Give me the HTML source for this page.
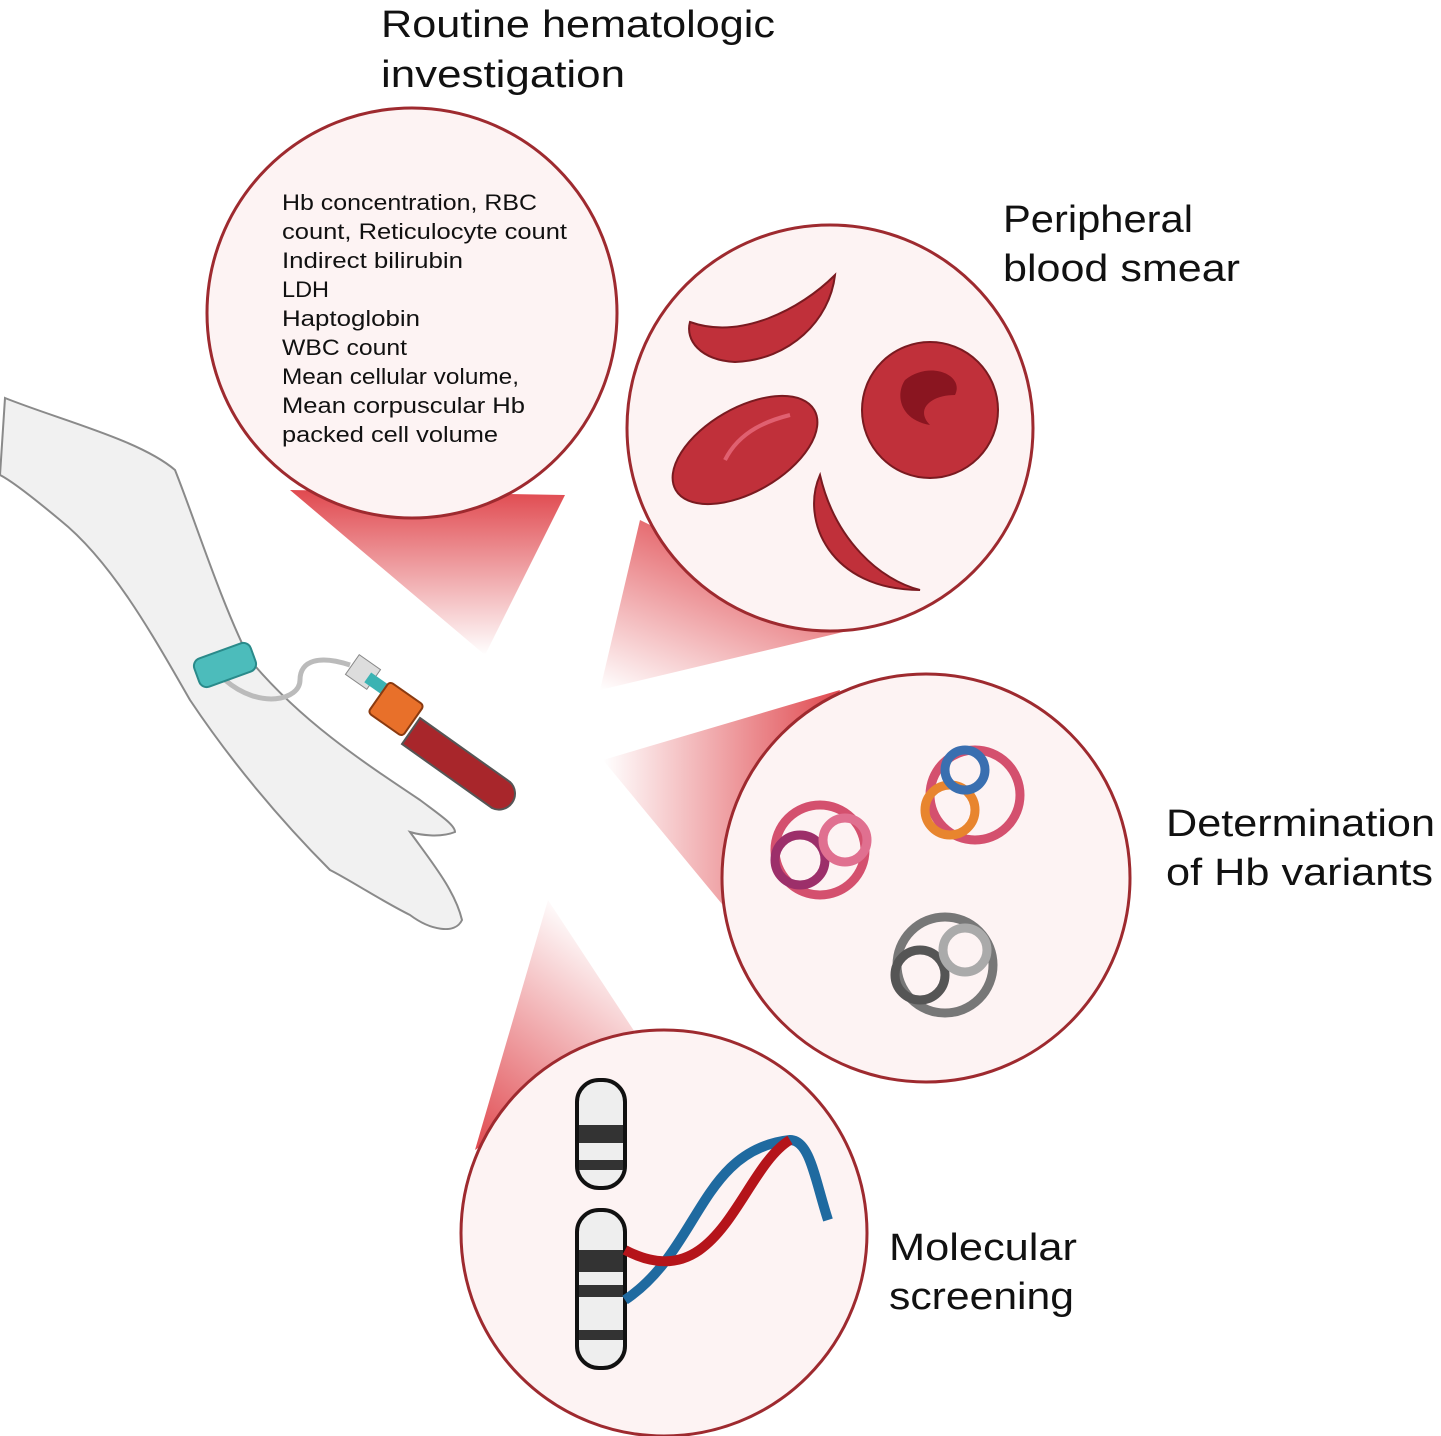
<!DOCTYPE html>
<html><head><meta charset="utf-8"><style>
html,body{margin:0;padding:0;background:#fff}
svg{display:block}
text{font-family:"Liberation Sans",sans-serif;fill:#111}
</style></head><body>
<svg width="1441" height="1436" viewBox="0 0 1441 1436" xmlns="http://www.w3.org/2000/svg">
<defs>
<linearGradient id="g1" x1="0" y1="1" x2="0" y2="0"><stop offset="0" stop-color="#fff"/><stop offset="1" stop-color="#e0494f"/></linearGradient>
<linearGradient id="g2" x1="0" y1="1" x2="0.6" y2="0"><stop offset="0" stop-color="#fff"/><stop offset="1" stop-color="#e0494f"/></linearGradient>
<linearGradient id="g3" x1="0" y1="0.5" x2="1" y2="0.5"><stop offset="0" stop-color="#fff"/><stop offset="1" stop-color="#e0494f"/></linearGradient>
<linearGradient id="g4" x1="0.5" y1="0" x2="0" y2="1"><stop offset="0" stop-color="#fff"/><stop offset="1" stop-color="#e0494f"/></linearGradient>
</defs>
<path d="M5,398 C60,420 140,440 175,470 C195,520 220,600 250,660 C300,720 360,760 420,800 C440,815 455,825 455,832 C440,838 420,835 410,832 C430,860 455,890 462,920 C455,935 430,930 410,915 C380,900 350,880 330,870 C280,820 230,760 190,700 C150,630 110,560 60,520 C30,495 10,480 0,475 Z" fill="#f1f1f1" stroke="#8a8a8a" stroke-width="2"/>
<path d="M225,680 C260,710 300,700 300,680 C300,660 320,655 350,665" fill="none" stroke="#bbb" stroke-width="5"/>
<rect x="195" y="650" width="60" height="30" rx="8" fill="#4cbcbb" stroke="#2a8a8a" stroke-width="2" transform="rotate(-20 225 665)"/>
<rect x="350" y="660" width="26" height="24" fill="#ddd" stroke="#888" transform="rotate(35 363 672)"/>
<rect x="365" y="680" width="30" height="12" fill="#3bb3b3" transform="rotate(35 380 686)"/>
<rect x="375" y="690" width="42" height="38" rx="4" fill="#e8702a" stroke="#8a3a10" stroke-width="2" transform="rotate(35 396 709)"/>
<path d="M420,718 L510,782 A16,16 0 0 1 492,808 L402,744 Z" fill="#a8262b" stroke="#555" stroke-width="2"/>
<polygon points="485,655 290,490 565,495" fill="url(#g1)"/>
<polygon points="600,690 640,520 860,628" fill="url(#g2)"/>
<polygon points="603,760 840,690 760,950" fill="url(#g3)"/>
<polygon points="548,900 475,1150 640,1040" fill="url(#g4)"/>
<circle cx="412" cy="313" r="205" fill="#fdf3f3" stroke="#9e2a2f" stroke-width="3"/>
<circle cx="830" cy="428" r="203" fill="#fdf3f3" stroke="#9e2a2f" stroke-width="3"/>
<circle cx="926" cy="878" r="204" fill="#fdf3f3" stroke="#9e2a2f" stroke-width="3"/>
<circle cx="664" cy="1233" r="203" fill="#fdf3f3" stroke="#9e2a2f" stroke-width="3"/>
<path d="M690,322 C740,340 800,310 835,275 C830,320 790,360 735,362 C700,360 685,340 690,322 Z" fill="#c0303a" stroke="#7a1a20" stroke-width="2"/>
<circle cx="930" cy="410" r="68" fill="#c0303a" stroke="#7a1a20" stroke-width="2"/>
<path d="M905,380 C930,360 965,375 955,395 C930,395 915,410 930,425 C900,420 895,395 905,380Z" fill="#8a1520"/>
<ellipse cx="745" cy="450" rx="80" ry="42" transform="rotate(-30 745 450)" fill="#c0303a" stroke="#7a1a20" stroke-width="2"/>
<path d="M725,460 C740,430 770,420 790,415" fill="none" stroke="#e06070" stroke-width="4"/>
<path d="M820,475 C800,520 830,590 920,590 C880,580 835,540 820,475Z" fill="#c0303a" stroke="#7a1a20" stroke-width="2"/>
<g fill="none" stroke-width="9">
<circle cx="820" cy="850" r="45" stroke="#d4506e"/><circle cx="800" cy="860" r="25" stroke="#9c2f6a"/><circle cx="845" cy="840" r="22" stroke="#e07090"/>
<circle cx="975" cy="795" r="45" stroke="#d4506e"/><circle cx="950" cy="810" r="25" stroke="#e8852e"/><circle cx="965" cy="770" r="20" stroke="#3a6fb0"/>
<circle cx="945" cy="965" r="48" stroke="#777"/><circle cx="920" cy="975" r="25" stroke="#555"/><circle cx="965" cy="950" r="22" stroke="#aaa"/>
</g>
<rect x="577" y="1080" width="48" height="108" rx="22" fill="#eee" stroke="#111" stroke-width="4"/>
<rect x="577" y="1210" width="48" height="158" rx="22" fill="#eee" stroke="#111" stroke-width="4"/>
<rect x="579" y="1125" width="44" height="18" fill="#333"/><rect x="579" y="1160" width="44" height="10" fill="#333"/>
<rect x="579" y="1250" width="44" height="22" fill="#333"/><rect x="579" y="1285" width="44" height="12" fill="#333"/><rect x="579" y="1330" width="44" height="10" fill="#333"/>
<path d="M625,1300 C700,1250 700,1150 790,1140 C810,1140 815,1180 828,1220" fill="none" stroke="#1f6aa0" stroke-width="10"/>
<path d="M625,1250 C720,1300 740,1170 790,1140" fill="none" stroke="#b5141a" stroke-width="10"/>
<g lengthAdjust="spacingAndGlyphs">
<text font-size="38" x="381" y="37" textLength="394" lengthAdjust="spacingAndGlyphs">Routine hematologic</text>
<text font-size="38" x="381" y="87" textLength="244" lengthAdjust="spacingAndGlyphs">investigation</text>
<text font-size="38" x="1003" y="232" textLength="190" lengthAdjust="spacingAndGlyphs">Peripheral</text>
<text font-size="38" x="1003" y="281" textLength="237" lengthAdjust="spacingAndGlyphs">blood smear</text>
<text font-size="38" x="1166" y="836" textLength="269" lengthAdjust="spacingAndGlyphs">Determination</text>
<text font-size="38" x="1166" y="885" textLength="267" lengthAdjust="spacingAndGlyphs">of Hb variants</text>
<text font-size="38" x="889" y="1260" textLength="188" lengthAdjust="spacingAndGlyphs">Molecular</text>
<text font-size="38" x="889" y="1309" textLength="185" lengthAdjust="spacingAndGlyphs">screening</text>
</g>
<g font-size="22">
<text x="282" y="210" textLength="255" lengthAdjust="spacingAndGlyphs">Hb concentration, RBC</text>
<text x="282" y="239" textLength="285" lengthAdjust="spacingAndGlyphs">count, Reticulocyte count</text>
<text x="282" y="268" textLength="181" lengthAdjust="spacingAndGlyphs">Indirect bilirubin</text>
<text x="282" y="297" textLength="47" lengthAdjust="spacingAndGlyphs">LDH</text>
<text x="282" y="326" textLength="138" lengthAdjust="spacingAndGlyphs">Haptoglobin</text>
<text x="282" y="355" textLength="125" lengthAdjust="spacingAndGlyphs">WBC count</text>
<text x="282" y="384" textLength="237" lengthAdjust="spacingAndGlyphs">Mean cellular volume,</text>
<text x="282" y="413" textLength="243" lengthAdjust="spacingAndGlyphs">Mean corpuscular Hb</text>
<text x="282" y="442" textLength="216" lengthAdjust="spacingAndGlyphs">packed cell volume</text>
</g>
</svg>
</body></html>
